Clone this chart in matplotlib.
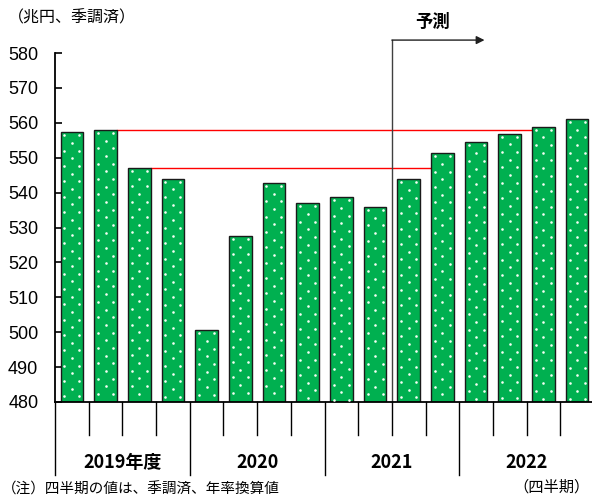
import numpy as np
import matplotlib
matplotlib.use("Agg")
import matplotlib.pyplot as plt
from matplotlib.transforms import blended_transform_factory

plt.rcParams['font.family'] = ['Liberation Sans', 'Noto Sans CJK JP']

# 四半期GDP（兆円、季調済・年率換算）
values = [557.3, 558.0, 547.1, 544.0,
          500.6, 527.6, 542.8, 537.0,
          538.7, 535.9, 543.8, 551.3,
          554.4, 556.9, 558.9, 561.1]
years = ['2019年度', '2020', '2021', '2022']
yticks = list(range(480, 581, 10))
forecast_start = 10          # 予測開始の四半期
ref_lines = [(1, 14), (2, 11)]  # (基準の四半期, 終わりの四半期)

n = len(values)
x = np.arange(n)
green = '#00B050'
jp = ['Noto Sans CJK JP']

fig = plt.figure(figsize=(5.92, 4.97), dpi=100)
ax = fig.add_axes([55 / 592, 95 / 497, 539 / 592, 349 / 497])

w = 0.67
ax.bar(x, np.array(values) - 480, bottom=480, width=w, color=green,
       edgecolor='#1a1a1a', linewidth=1.0, zorder=2)

# 白い点のパターン
dx, dy = 0.223, 2.2
px, py = [], []
for xi, v in zip(x, values):
    yy = v - 0.9
    row = 0
    while yy > 480.5:
        if row % 2 == 0:
            px += [xi - dx, xi + dx]
            py += [yy, yy]
        else:
            px.append(xi)
            py.append(yy)
        yy -= dy
        row += 1
ax.scatter(px, py, s=3.5, color='#f4fff4', linewidths=0, zorder=3)

# 赤い基準線
for i, j in ref_lines:
    ax.plot([i + w / 2, j - w / 2], [values[i], values[i]],
            color='#ff0000', lw=1.0, zorder=1)

ax.set_xlim(-0.5, n - 0.5)
ax.set_ylim(480, 580)
ax.set_yticks(yticks)
ax.set_xticks([])
ax.tick_params(axis='y', direction='in', length=5, width=1.2, pad=12,
               labelsize=13)
for s in ['top', 'right']:
    ax.spines[s].set_visible(False)
ax.spines['left'].set_linewidth(1.3)
ax.spines['bottom'].set_linewidth(1.3)

# 区切り線（四半期と年度）
trans = blended_transform_factory(ax.transData, ax.transAxes)
for k in range(n + 1):
    b = k - 0.5
    depth = -0.209 if k % 4 == 0 else -0.095
    ax.plot([b, b], [0, depth], color='black', lw=1.0, transform=trans,
            clip_on=False)
for i, name in enumerate(years):
    ax.text(i * 4 + 1.5, -0.172, name, transform=trans, ha='center',
            va='center', fontsize=13, fontweight='bold', family=jp)

# 予測の矢印
fx = forecast_start - 0.5
ax.plot([fx, fx], [0, 1.037], color='#404040', lw=1.0, transform=trans,
        clip_on=False)
ax.annotate('', xy=(12.25, 1.037), xytext=(fx, 1.037),
            xycoords=trans, textcoords=trans,
            arrowprops=dict(arrowstyle='-|>', color='#202020', lw=1.0,
                            mutation_scale=12, shrinkA=0, shrinkB=0))
ax.text(10.72, 1.089, '予測', transform=trans, ha='center', va='center',
        fontsize=12.5, fontweight='bold', family=jp)

fig.text(8 / 592, 1 - 18 / 497, '（兆円、季調済）', ha='left', va='center',
         fontsize=11.5, family=jp)
fig.text(590 / 592, 1 - 487 / 497, '（四半期）', ha='right', va='center',
         fontsize=11, family=jp)
fig.text(2 / 592, 1 - 489 / 497, '（注）四半期の値は、季調済、年率換算値',
         ha='left', va='center', fontsize=10.5, family=jp)

fig.savefig('out.png', dpi=100)
